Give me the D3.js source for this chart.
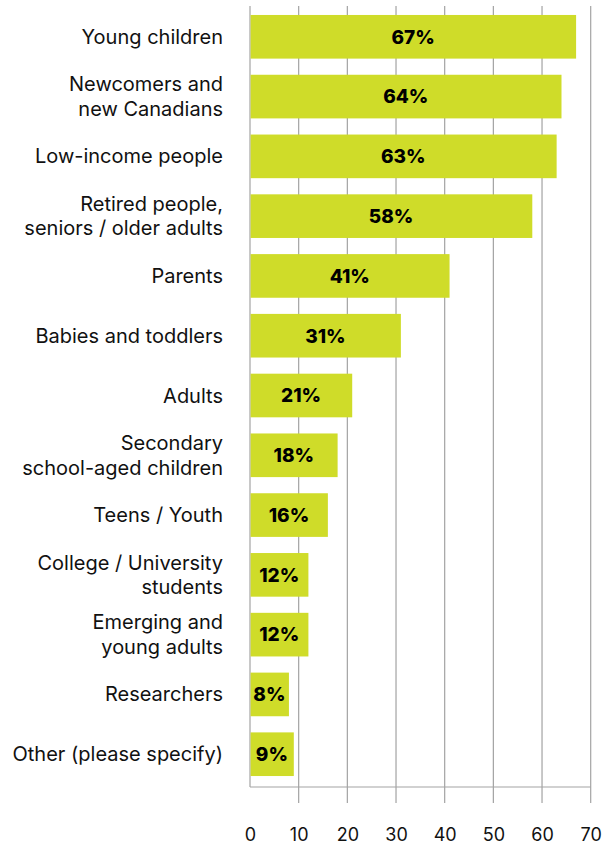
<!DOCTYPE html>
<html>
<head>
<meta charset="utf-8">
<script src="https://cdn.jsdelivr.net/npm/d3@7"></script>
<style>
  html, body { margin: 0; padding: 0; background: #fff; }
  svg { display: block; }
</style>
</head>
<body>
<svg id="chart" width="611" height="844"></svg>
<script>
// Audience groups (top to bottom) and share of respondents, in percent
const categories = [
  "Young children",
  "Newcomers and\nnew Canadians",
  "Low-income people",
  "Retired people,\nseniors / older adults",
  "Parents",
  "Babies and toddlers",
  "Adults",
  "Secondary\nschool-aged children",
  "Teens / Youth",
  "College / University\nstudents",
  "Emerging and\nyoung adults",
  "Researchers",
  "Other (please specify)"
];
const values = [67, 64, 63, 58, 41, 31, 21, 18, 16, 12, 12, 8, 9];
const tickValues = [0, 10, 20, 30, 40, 50, 60, 70];

const data = categories.map((c, i) => ({ label: c, value: values[i] }));

const svg = d3.select("#chart");
const FONT = "Inter, 'Noto Sans', sans-serif";
const BAR = "#cfdc29";
const GRID = "#a3a3a3";

const plotTop = 6, baseY = 787, plotBottom = 785;
const x = d3.scaleLinear().domain([0, 70]).range([250, 590.7]);
const y = d3.scaleBand()
  .domain(categories)
  .range([plotTop, plotBottom])
  .paddingInner(0.27)
  .paddingOuter(0.15);

// vertical gridlines, running down past the baseline as tick marks
svg.append("g")
  .selectAll("line")
  .data(tickValues.filter(t => t > 0))
  .join("line")
  .attr("x1", d => x(d)).attr("x2", d => x(d))
  .attr("y1", plotTop).attr("y2", baseY + 16)
  .attr("stroke", GRID).attr("stroke-width", 1.2);

// left axis and baseline
svg.append("line")
  .attr("x1", x(0)).attr("x2", x(0))
  .attr("y1", plotTop).attr("y2", baseY)
  .attr("stroke", GRID).attr("stroke-width", 1.2);
svg.append("line")
  .attr("x1", x(0)).attr("x2", x(70))
  .attr("y1", baseY).attr("y2", baseY)
  .attr("stroke", GRID).attr("stroke-width", 1.2);

// bars
svg.append("g")
  .selectAll("rect")
  .data(data)
  .join("rect")
  .attr("x", x(0) + 0.6)
  .attr("y", d => y(d.label))
  .attr("width", d => x(d.value) - x(0) - 0.6)
  .attr("height", y.bandwidth())
  .attr("fill", BAR);

// value labels inside bars
svg.append("g")
  .selectAll("text")
  .data(data)
  .join("text")
  .attr("x", d => (x(0) + x(d.value)) / 2)
  .attr("y", d => y(d.label) + y.bandwidth() / 2)
  .attr("dy", "0.36em")
  .attr("text-anchor", "middle")
  .attr("font-family", FONT)
  .attr("font-weight", 800)
  .attr("font-size", 19)
  .attr("fill", "#000")
  .text(d => d.value + "%");

// category labels, right aligned, one or two lines
const lineH = 24.5;
const cat = svg.append("g")
  .selectAll("text")
  .data(data)
  .join("text")
  .attr("text-anchor", "end")
  .attr("font-family", FONT)
  .attr("font-size", 20)
  .attr("fill", "#111");
cat.each(function (d) {
  const lines = d.label.split("\n");
  const cy = y(d.label) + y.bandwidth() / 2;
  const first = cy + 7 - (lines.length - 1) * lineH / 2;
  d3.select(this).selectAll("tspan")
    .data(lines)
    .join("tspan")
    .attr("x", 223)
    .attr("y", (l, i) => first + i * lineH)
    .text(l => l);
});

// bottom axis tick labels
const axis = d3.axisBottom(x).tickValues(tickValues).tickSize(0).tickPadding(42);
const ax = svg.append("g").attr("transform", `translate(0,${baseY})`).call(axis);
ax.select(".domain").remove();
ax.selectAll("text")
  .attr("dy", "0")
  .attr("y", 54)
  .attr("font-family", FONT)
  .attr("font-size", 18)
  .attr("fill", "#111");
</script>
</body>
</html>
